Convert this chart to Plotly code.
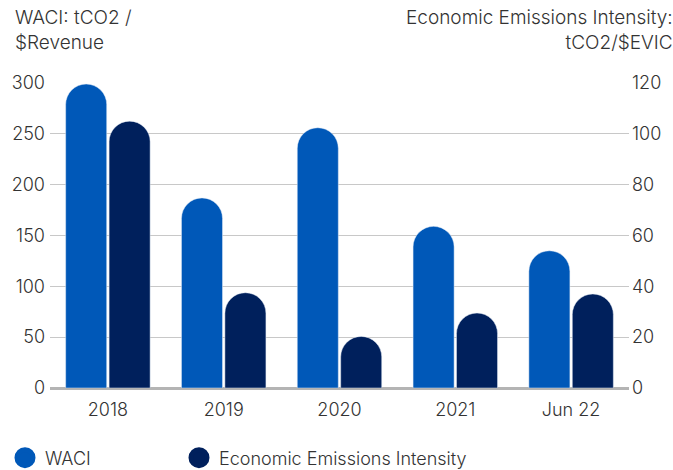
import plotly.graph_objects as go

categories = ["2018", "2019", "2020", "2021", "Jun 22"]
waci = [299, 187, 256, 159, 135]
eei = [105, 37.5, 20.3, 29.5, 37]
left_ticks = [0, 50, 100, 150, 200, 250, 300]
right_ticks = [0, 20, 40, 60, 80, 100, 120]

C_WACI = "#0058B8"
C_EEI = "#00205C"
FONT = "Inter"
TXT = "#333333"
W, H = 673, 470
ML, MR, MT, MB = 46, 36, 83, 82
PW = W - ML - MR
PH = H - MT - MB
WT = 300

fig = go.Figure()
fig.add_trace(go.Bar(x=categories, y=waci, name="WACI", marker=dict(color=C_WACI, cornerradius="50%"),
                     offsetgroup="a", yaxis="y", showlegend=False))
fig.add_trace(go.Bar(x=categories, y=eei, name="Economic Emissions Intensity",
                     marker=dict(color=C_EEI, cornerradius="50%"),
                     offsetgroup="b", yaxis="y2", showlegend=False))
# legend entries
fig.add_trace(go.Scatter(x=[None], y=[None], mode="markers", name="WACI", legend="legend",
                         marker=dict(color=C_WACI, size=16, symbol="circle",
                                     line=dict(color=C_WACI, width=5))))
fig.add_trace(go.Scatter(x=[None], y=[None], mode="markers", name="Economic Emissions Intensity",
                         legend="legend2",
                         marker=dict(color=C_EEI, size=16, symbol="circle",
                                     line=dict(color=C_EEI, width=5))))

legend_common = dict(orientation="h", xref="container", yref="container", xanchor="left",
                     yanchor="middle", font=dict(size=18, color=TXT, weight=WT))

fig.update_layout(
    width=W, height=H,
    margin=dict(l=ML, r=MR, t=MT, b=MB),
    paper_bgcolor="white", plot_bgcolor="white",
    font=dict(family=FONT, size=18, color=TXT, weight=WT),
    barmode="group", bargap=0.25, bargroupgap=0.055,
    xaxis=dict(showgrid=False, ticks="", tickfont=dict(size=18, color=TXT, weight=WT), showline=False,
               ticklabelstandoff=9),
    yaxis=dict(range=[0, 300], tickvals=left_ticks, showgrid=True, gridcolor="#C8C8C8", gridwidth=1,
               zeroline=True, zerolinecolor="#B4B4B4", zerolinewidth=2.5, ticks="",
               tickfont=dict(size=18, color=TXT, weight=WT), ticklabelstandoff=4),
    yaxis2=dict(range=[0, 120], tickvals=right_ticks, overlaying="y", side="right", showgrid=False,
                zeroline=False, ticks="", tickfont=dict(size=18, color=TXT, weight=WT),
                ticklabelstandoff=2),
    legend=dict(x=5 / W, y=12 / H, **legend_common),
    legend2=dict(x=179 / W, y=12 / H, **legend_common),
    annotations=[
        dict(text="WACI: tCO2 /<br>$Revenue", xref="paper", yref="paper", x=-(ML - 8) / PW,
             y=1 + (MT - 4) / PH,
             xanchor="left", yanchor="top", align="left", showarrow=False,
             font=dict(size=19, color=TXT, weight=WT)),
        dict(text="Economic Emissions Intensity:<br>tCO2/$EVIC", xref="paper", yref="paper",
             x=1 + (MR + 11) / PW, y=1 + (MT - 4) / PH, xanchor="right", yanchor="top", align="right",
             showarrow=False, font=dict(size=19, color=TXT, weight=WT)),
    ],
)

fig.write_html("out.html", post_script="document.body.style.margin='0';",
               config={"displayModeBar": False})
